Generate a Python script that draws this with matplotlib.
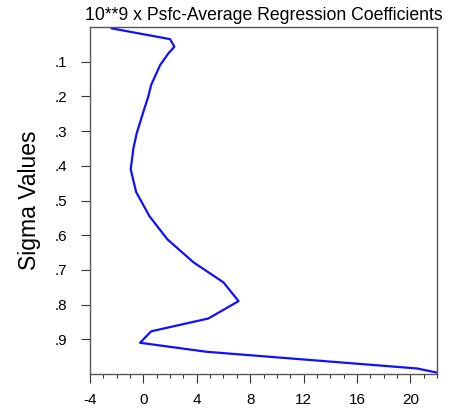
import matplotlib
matplotlib.use('Agg')
import matplotlib.pyplot as plt
from matplotlib.ticker import MultipleLocator

plt.rcParams['font.family'] = ['Liberation Sans', 'DejaVu Sans']
plt.rcParams['axes.unicode_minus'] = False

sigma = [0.004, 0.035, 0.057, 0.076, 0.11, 0.167, 0.20, 0.244, 0.306, 0.35,
         0.41, 0.475, 0.545, 0.612, 0.678, 0.736, 0.79, 0.84, 0.877, 0.91,
         0.936, 0.984, 0.996]
coef = [-2.37, 2.0, 2.32, 1.87, 1.25, 0.58, 0.37, 0.0, -0.5, -0.75,
        -0.95, -0.55, 0.45, 1.8, 3.75, 6.0, 7.13, 4.87, 0.58, -0.25,
        4.75, 20.5, 22.0]

y_ticks = [0.1, 0.2, 0.3, 0.4, 0.5, 0.6, 0.7, 0.8, 0.9]
y_labels = ['.1', '.2', '.3', '.4', '.5', '.6', '.7', '.8', '.9']
x_ticks = [-4, 0, 4, 8, 12, 16, 20]

fig = plt.figure(figsize=(4.51, 4.13), dpi=100)
ax = fig.add_axes([0.1996, 0.0944, 0.7694, 0.8402])

ax.plot(coef, sigma, color='#1010ff', linewidth=1.6)

ax.set_xlim(-4, 22)
ax.set_ylim(1.0, 0.0)
ax.set_xticks(x_ticks)
ax.xaxis.set_minor_locator(MultipleLocator(1))
ax.set_yticks(y_ticks)
ax.set_yticklabels(y_labels)

ax.tick_params(axis='both', which='major', direction='out', length=6.5,
               width=0.8, labelsize=11, color='#333333')
ax.tick_params(axis='x', which='major', pad=7.5)
ax.tick_params(axis='y', which='major', pad=10)
ax.tick_params(axis='x', which='minor', direction='out', length=3,
               width=0.8, color='#333333')
ax.tick_params(axis='y', which='minor', left=False)

for s in ax.spines.values():
    s.set_color('#555555')
    s.set_linewidth(1.0)

ax.set_ylabel('Sigma Values', fontsize=16.5, labelpad=10)
ax.set_title('10**9 x Psfc-Average Regression Coefficients', fontsize=12.7, pad=5)

plt.savefig('out.png', dpi=100)
